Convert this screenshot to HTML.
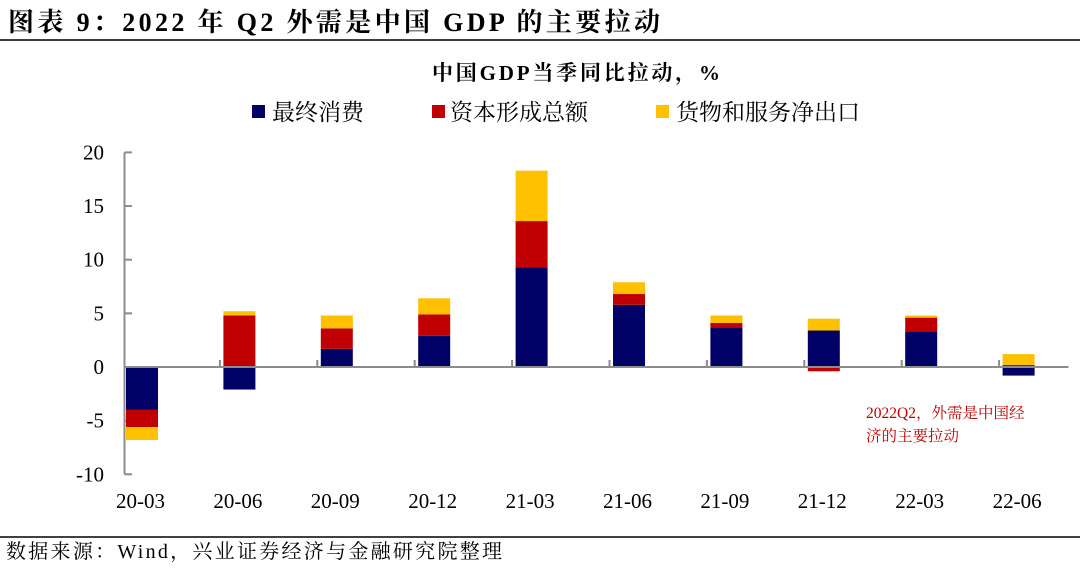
<!DOCTYPE html>
<html><head><meta charset="utf-8"><style>
body{margin:0;background:#fff;}
svg text{font-family:"Liberation Serif","Noto Serif CJK SC",serif;}
</style></head><body>
<svg width="1080" height="569" xmlns="http://www.w3.org/2000/svg">
<text x="8" y="31" font-size="26" font-weight="bold" fill="#000" textLength="652" lengthAdjust="spacing">图表 9：2022 年 Q2 外需是中国 GDP 的主要拉动</text>
<line x1="0" y1="40" x2="1080" y2="40" stroke="#000" stroke-width="1.5"/>
<text x="576" y="80" font-size="21" font-weight="bold" text-anchor="middle" textLength="288" lengthAdjust="spacing">中国GDP当季同比拉动，%</text>
<g id="legend">
<rect x="252" y="105" width="13" height="13" fill="#000066"/>
<text x="272" y="120" font-size="23">最终消费</text>
<rect x="432" y="105" width="13" height="13" fill="#c00000"/>
<text x="450" y="120" font-size="23">资本形成总额</text>
<rect x="656" y="105" width="13" height="13" fill="#ffc000"/>
<text x="676" y="120" font-size="23">货物和服务净出口</text>
</g>
<g id="plot"></g>
<text x="866" y="418" font-size="15.5" fill="#c00000">2022Q2，外需是中国经</text>
<text x="866" y="441" font-size="15.5" fill="#c00000">济的主要拉动</text>
<line x1="0" y1="537" x2="1080" y2="537" stroke="#000" stroke-width="1.5"/>
<text x="6" y="558" font-size="20" textLength="496" lengthAdjust="spacing">数据来源：Wind，兴业证券经济与金融研究院整理</text>
</svg>
<script>
const categories=["20-03","20-06","20-09","20-12","21-03","21-06","21-09","21-12","22-03","22-06"];
const consumption=[-4.0,-2.1,1.7,2.9,9.3,5.8,3.7,3.4,3.3,-0.8];
const capital=[-1.6,4.8,1.9,2.0,4.3,1.0,0.4,-0.4,1.3,0.2];
const netExports=[-1.2,0.4,1.2,1.5,4.7,1.1,0.7,1.1,0.2,1.0];
const yTicks=[20,15,10,5,0,-5,-10];
const NS="http://www.w3.org/2000/svg";
const g=document.getElementById("plot");
const y=v=>367-v*10.73;
const xL=i=>124.5+i*97.4;
function mk(t,a){const e=document.createElementNS(NS,t);for(const k in a)e.setAttribute(k,a[k]);g.appendChild(e);return e;}
let ax=mk("line",{x1:124.5,y1:y(20),x2:124.5,y2:y(-10),stroke:"#8c8c8c","stroke-width":2});


yTicks.forEach(t=>{
 let tk=mk("line",{x1:124.5,y1:y(t),x2:132,y2:y(t),stroke:"#8c8c8c","stroke-width":2});
 
 
 let tl=mk("text",{x:104,y:y(t)+7,"font-size":21,"text-anchor":"end"});tl.textContent=t;
 
 
});
const series=[[consumption,"#000066","consumption"],[capital,"#c00000","capital"],[netExports,"#ffc000","net-exports"]];
categories.forEach((c,i)=>{
 let pos=0,neg=0;
 series.forEach(([arr,col,nm])=>{
  const v=arr[i];let y0,y1;
  if(v>=0){y0=pos;y1=pos+v;pos=y1;}else{y0=neg;y1=neg+v;neg=y1;}
  const top=Math.min(y(y0),y(y1)),h=Math.abs(y(y0)-y(y1));
  let r=mk("rect",{x:xL(i)+1.5,y:top,width:32,height:h,fill:col});
  
  
 });
 let xl=mk("text",{x:xL(i)+16,y:508,"font-size":21,"text-anchor":"middle"});xl.textContent=c;
 
 
 if(i>0){let tk=mk("line",{x1:xL(i)-2,y1:y(0),x2:xL(i)-2,y2:y(0)-7,stroke:"#8c8c8c","stroke-width":2});
 
 }
});
let zl=mk("line",{x1:124.5,y1:y(0),x2:124.5+categories.length*97.4-30,y2:y(0),stroke:"#8c8c8c","stroke-width":2});


</script>
</body></html>
